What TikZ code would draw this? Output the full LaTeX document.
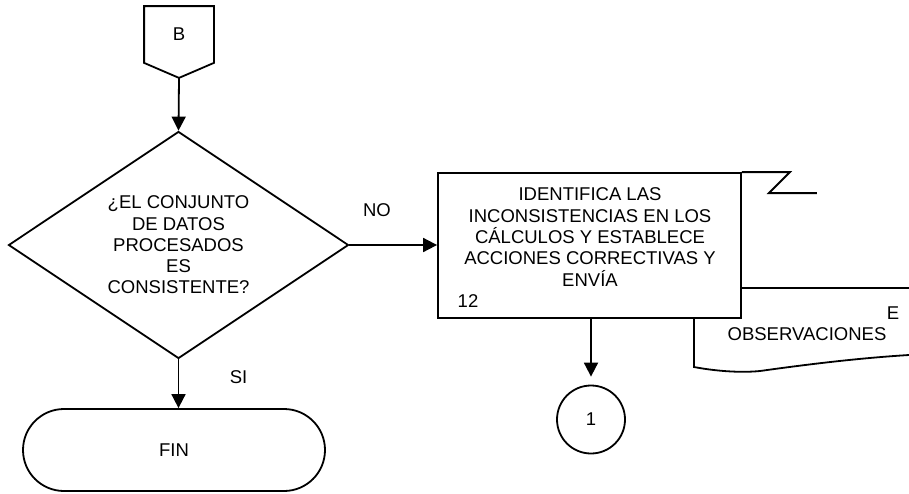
\documentclass[tikz,border=0pt]{standalone}
\usepackage{fontspec}
\setmainfont{Liberation Sans}
\usetikzlibrary{arrows.meta,positioning,calc,shapes.geometric,shapes.misc}

\begin{document}
\begin{tikzpicture}[
    x=0.5pt, y=-0.5pt,
    font=\fontsize{9.25}{10.65}\selectfont,
    line width=0.9pt,
    offpage/.style={minimum width=34pt, minimum height=27.5pt, inner sep=0pt},
    decision/.style={diamond, draw, aspect=1.5, minimum width=170pt,
                     minimum height=113.5pt, inner sep=0pt, align=center},
    terminal/.style={rounded rectangle, draw, minimum width=151pt,
                     minimum height=41pt, inner sep=0pt},
    box/.style={rectangle, draw, fill=white, minimum width=151.5pt,
                minimum height=72.5pt, inner sep=0pt},
    connector/.style={circle, draw, minimum size=34pt, inner sep=0pt},
    txt/.style={align=center, inner sep=0pt},
    lbl/.style={inner sep=0pt, anchor=base},
    flow/.style={-{Triangle[length=7pt, width=7pt]}},
  ]
  \useasboundingbox (0,0) rectangle (909,493);
  \clip (0,0) rectangle (909,493);

  % off-page connector B
  \node[offpage] (conB) at (179,34.5) {B};
  \coordinate (conBtip) at ($(conB.south)+(0,15)$);
  \draw (conB.north west) -- (conB.north east) -- (conB.south east)
        -- (conBtip) -- (conB.south west) -- cycle;

  % decision and end
  \node[decision] (dec) at (178.5,245) {¿EL CONJUNTO\\DE DATOS\\PROCESADOS\\ES\\CONSISTENTE?};
  \node[terminal] (fin) at (174,450) {FIN};

  % document behind the activity
  \draw[fill=white] (694,288) -- (930,288) -- (930,354) -- (909,355)
        .. controls (860,358) and (810,364) .. (760,371)
        .. controls (740,373) and (715,371) .. (694,367) -- cycle;
  \node[lbl] (docE) at (893,319) {E};
  \node[lbl] (docobs) at (807,340) {OBSERVACIONES};

  % activity 12
  \node[box] (act12) at (589.5,245.5) {};
  \node[txt] (act12txt) at (590,237) {IDENTIFICA LAS\\INCONSISTENCIAS EN LOS\\CÁLCULOS Y ESTABLECE\\ACCIONES CORRECTIVAS Y\\ENVÍA};
  \node[lbl] (act12num) at (468,307) {12};
  \draw (act12.north east) -- ++(48,0) -- ++(-21,21) -- ++(48,0);

  \node[connector] (con1) at (591,419.5) {1};

  % flow
  \draw[flow] (conBtip) -- (dec.north);
  \draw[flow] (dec.south) -- node[lbl, pos=0.5, xshift=30pt] {SI} (dec.south |- fin.north);
  \draw[flow] (dec.east) -- (dec.east -| act12.west);
  \node[lbl] (nolbl) at (377,216.5) {NO};
  \draw[flow, shorten >=4pt] (act12.south -| con1.north) -- (con1.north);
\end{tikzpicture}
\end{document}
